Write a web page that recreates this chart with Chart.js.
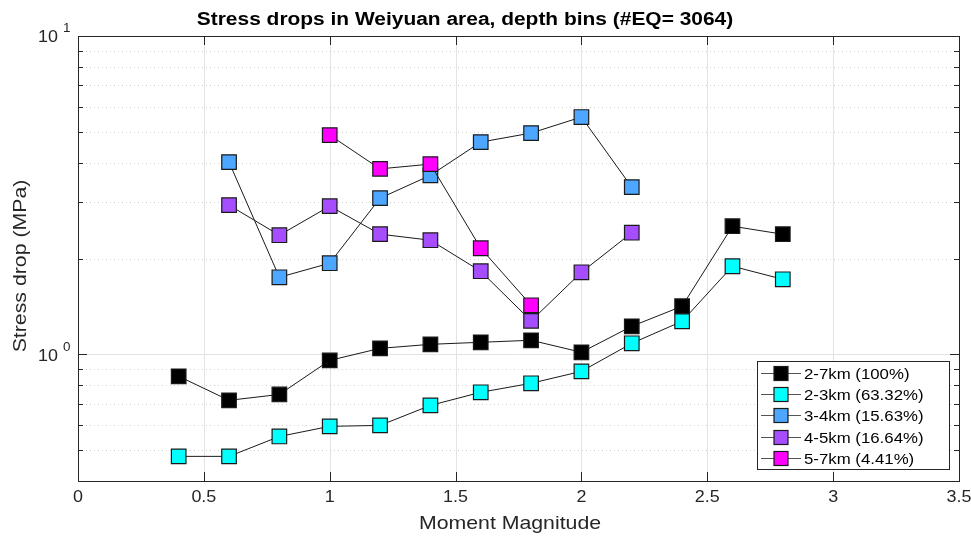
<!DOCTYPE html>
<html>
<head>
<meta charset="utf-8">
<title>Stress drops in Weiyuan area</title>
<script src="https://cdn.jsdelivr.net/npm/chart.js@4/dist/chart.umd.min.js"></script>
<style>
  html, body { margin: 0; padding: 0; background: #fff; }
  canvas { display: block; }
</style>
</head>
<body>
<canvas id="sdChart" width="971" height="537"></canvas>
<script>
// moment magnitude bins
const mw = [0.4, 0.6, 0.8, 1.0, 1.2, 1.4, 1.6, 1.8, 2.0, 2.2, 2.4, 2.6, 2.8];

// median stress drop (MPa) per bin, one array per depth range
const sd_2_7 = [0.853, 0.717, 0.748, 0.957, 1.044, 1.075, 1.091, 1.107, 1.015, 1.225, 1.416, 2.526, 2.384];
const sd_2_3 = [0.478, 0.478, 0.552, 0.594, 0.598, 0.691, 0.760, 0.811, 0.884, 1.083, 1.270, 1.891, 1.721];
const sd_3_4 = [null, 4.017, 1.746, 1.933, 3.094, 3.650, 4.642, 4.955, 5.564, 3.351, null, null, null];
const sd_4_5 = [null, 2.942, 2.367, 2.920, 2.385, 2.283, 1.824, 1.274, 1.810, 2.410, null, null, null];
const sd_5_7 = [null, null, null, 4.883, 3.825, 3.958, 2.154, 1.426, null, null, null, null, null];

const depthLabels = ['2-7km (100%)', '2-3km (63.32%)', '3-4km (15.63%)', '4-5km (16.64%)', '5-7km (4.41%)'];
const depthColors = ['#000000', '#00ffff', '#4da6ff', '#a64dff', '#ff00ff'];

const xTicks = [0, 0.5, 1, 1.5, 2, 2.5, 3, 3.5];
const yMajor = [1, 10];
const yMinor = [0.5, 0.6, 0.7, 0.8, 0.9, 2, 3, 4, 5, 6, 7, 8, 9];

const FONT = 'Helvetica, "Liberation Sans", Arial, sans-serif';
const AXIS_COLOR = '#262626';
const GRID_COLOR = '#e3e3e3';
const TEXT_STRETCH = 1.12;   // Helvetica as exported runs a bit wider than Arial

const allSeries = [sd_2_7, sd_2_3, sd_3_4, sd_4_5, sd_5_7];

const datasets = allSeries.map((vals, i) => ({
    label: depthLabels[i],
    data: mw.map((m, k) => ({ x: m, y: vals[k] })),
    borderColor: '#1a1a1a',
    borderWidth: 1,
    backgroundColor: depthColors[i],
    pointStyle: 'rect',
    pointRadius: 10.3,
    pointBorderColor: '#1a1a1a',
    pointBorderWidth: 1.2,
    pointHoverRadius: 10.3,
    spanGaps: false,
    tension: 0,
    order: allSeries.length - i   // later depth ranges sit on top
}));

// fillText with a horizontal stretch around the anchor point
function wideText(ctx, text, x, y, rot) {
    ctx.save();
    ctx.translate(x, y);
    if (rot) ctx.rotate(rot);
    ctx.scale(TEXT_STRETCH, 1);
    ctx.fillText(text, 0, 0);
    ctx.restore();
}

// grid behind the data
const gridPlugin = {
    id: 'matlabGrid',
    beforeDatasetsDraw(chart) {
        const { ctx, chartArea: a, scales: { x, y } } = chart;
        ctx.save();
        ctx.lineWidth = 1;
        ctx.strokeStyle = GRID_COLOR;
        xTicks.forEach(t => {
            const px = Math.round(x.getPixelForValue(t)) + 0.5;
            ctx.beginPath();
            ctx.moveTo(px, a.top);
            ctx.lineTo(px, a.bottom);
            ctx.stroke();
        });
        yMajor.forEach(t => {
            const py = Math.round(y.getPixelForValue(t)) + 0.5;
            ctx.beginPath();
            ctx.moveTo(a.left, py);
            ctx.lineTo(a.right, py);
            ctx.stroke();
        });
        ctx.strokeStyle = '#d0d0d0';
        ctx.setLineDash([1, 3]);
        yMinor.forEach(t => {
            const py = Math.round(y.getPixelForValue(t)) + 0.5;
            ctx.beginPath();
            ctx.moveTo(a.left, py);
            ctx.lineTo(a.right, py);
            ctx.stroke();
        });
        ctx.restore();
    }
};

// box, ticks, labels, title and legend on top
const axesPlugin = {
    id: 'matlabAxes',
    afterDraw(chart) {
        const { ctx, chartArea: a, scales: { x, y } } = chart;
        ctx.save();

        // box
        ctx.strokeStyle = AXIS_COLOR;
        ctx.lineWidth = 1;
        ctx.strokeRect(Math.round(a.left) + 0.5, Math.round(a.top) + 0.5,
            Math.round(a.right - a.left), Math.round(a.bottom - a.top));

        // inward ticks
        ctx.beginPath();
        xTicks.forEach(t => {
            const px = Math.round(x.getPixelForValue(t)) + 0.5;
            ctx.moveTo(px, a.bottom); ctx.lineTo(px, a.bottom - 9);
            ctx.moveTo(px, a.top); ctx.lineTo(px, a.top + 9);
        });
        yMajor.forEach(t => {
            const py = Math.round(y.getPixelForValue(t)) + 0.5;
            ctx.moveTo(a.left, py); ctx.lineTo(a.left + 9, py);
            ctx.moveTo(a.right, py); ctx.lineTo(a.right - 9, py);
        });
        yMinor.forEach(t => {
            const py = Math.round(y.getPixelForValue(t)) + 0.5;
            ctx.moveTo(a.left, py); ctx.lineTo(a.left + 5, py);
            ctx.moveTo(a.right, py); ctx.lineTo(a.right - 5, py);
        });
        ctx.stroke();

        // x tick labels
        ctx.fillStyle = AXIS_COLOR;
        ctx.font = '16px ' + FONT;
        ctx.textAlign = 'center';
        ctx.textBaseline = 'middle';
        xTicks.forEach(t => {
            wideText(ctx, String(t), x.getPixelForValue(t), a.bottom + 17);
        });

        // y tick labels as 10^n
        yMajor.forEach(t => {
            const py = y.getPixelForValue(t);
            ctx.font = '16px ' + FONT;
            ctx.textAlign = 'right';
            wideText(ctx, '10', a.left - 20, py + 2);
            ctx.font = '12px ' + FONT;
            ctx.textAlign = 'left';
            wideText(ctx, String(Math.round(Math.log10(t))), a.left - 15, py - 7);
        });

        // axis titles
        ctx.font = '19px ' + FONT;
        ctx.textAlign = 'center';
        wideText(ctx, 'Moment Magnitude', 510, a.bottom + 43);
        wideText(ctx, 'Stress drop (MPa)', 21, 266, -Math.PI / 2);

        // title
        ctx.fillStyle = '#000';
        ctx.font = 'bold 18.7px ' + FONT;
        wideText(ctx, 'Stress drops in Weiyuan area, depth bins (#EQ= 3064)', 465, 20);

        // legend
        const lx = 757.5, ly = 361.5, lw = 192, lh = 108;
        ctx.fillStyle = '#fff';
        ctx.fillRect(lx, ly, lw, lh);
        ctx.strokeStyle = AXIS_COLOR;
        ctx.strokeRect(lx, ly, lw, lh);
        ctx.font = '15px ' + FONT;
        ctx.textAlign = 'left';
        chart.data.datasets.forEach((ds, i) => {
            const cy = Math.round(373 + i * 21.2) + 0.5;
            ctx.strokeStyle = '#555';
            ctx.lineWidth = 1;
            ctx.beginPath();
            ctx.moveTo(761, cy); ctx.lineTo(801, cy);
            ctx.stroke();
            ctx.fillStyle = ds.backgroundColor;
            ctx.fillRect(774, cy - 7, 14, 14);
            ctx.strokeStyle = '#1a1a1a';
            ctx.lineWidth = 1.2;
            ctx.strokeRect(774, cy - 7, 14, 14);
            ctx.fillStyle = '#000';
            wideText(ctx, ds.label, 804, cy + 1);
        });

        ctx.restore();
    }
};

const whiteBg = {
    id: 'whiteBg',
    beforeDraw(chart) {
        const ctx = chart.ctx;
        ctx.save();
        ctx.fillStyle = '#fff';
        ctx.fillRect(0, 0, chart.width, chart.height);
        ctx.restore();
    }
};

new Chart(document.getElementById('sdChart').getContext('2d'), {
    type: 'line',
    data: { datasets: datasets },
    options: {
        responsive: false,
        animation: false,
        devicePixelRatio: 1,
        layout: { padding: { left: 78, right: 12, top: 36, bottom: 56 } },
        plugins: {
            legend: { display: false },
            title: { display: false },
            tooltip: { enabled: false }
        },
        scales: {
            x: { type: 'linear', min: 0, max: 3.5, display: false },
            y: { type: 'logarithmic', min: 0.4, max: 10, display: false }
        }
    },
    plugins: [whiteBg, gridPlugin, axesPlugin]
});
</script>
</body>
</html>
